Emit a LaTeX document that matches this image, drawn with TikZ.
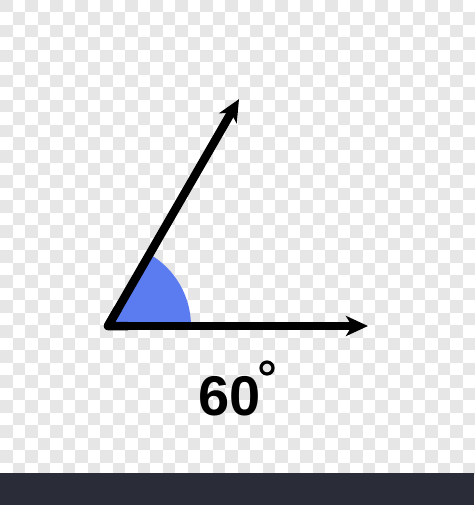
\documentclass[tikz,border=0pt]{standalone}
\usepackage{fontspec}
\setmainfont{Liberation Sans}
\usepackage{xcolor}
\usetikzlibrary{arrows.meta, positioning, calc}
\definecolor{checkgray}{HTML}{E6E6E6}
\definecolor{sectorblue}{HTML}{5A7CF0}
\definecolor{bannerdark}{HTML}{2A2C37}
\tikzset{
    ray/.style={draw=black, line width=8.5pt, line join=round, -{Stealth[length=22pt, width=20pt, inset=6pt]}},
    sector/.style={fill=sectorblue, draw=none},
    label/.style={font=\fontsize{56}{56}\selectfont\bfseries, inner sep=0pt},
    degring/.style={draw=black, line width=3.2pt}
}
\begin{document}
\begin{tikzpicture}[x=1pt, y=-1pt]
    \useasboundingbox (0,0) rectangle (474,505);
    % transparency checkerboard
    \foreach \i in {0,...,37}{
        \foreach \j in {0,...,37}{
            \pgfmathtruncatemacro{\odd}{mod(\i+\j,2)}
            \ifnum\odd=0
                \fill[checkgray] (\i*12.5,\j*12.5) rectangle ++(12.5,12.5);
            \fi
        }
    }
    \fill[bannerdark] (0,473) rectangle (474,505);

    \coordinate (O) at (108,326);
    \coordinate (A) at ($(O)+(-60:262)$);
    \coordinate (B) at (368,326);

    \fill[sector] (O) -- ++(83,0) arc[start angle=0, end angle=-60, radius=83] -- cycle;
    \draw[ray] (O) -- (A);
    \draw[ray] (O) -- (B);
    \draw[draw=black, line width=8.5pt, line join=round] ($(O)+(-60:20)$) -- (O) -- ++(20,0);

    \node[label] (angle) at (230,396) {60};
    \draw[degring] (267,368) circle[radius=6];
\end{tikzpicture}
\end{document}
